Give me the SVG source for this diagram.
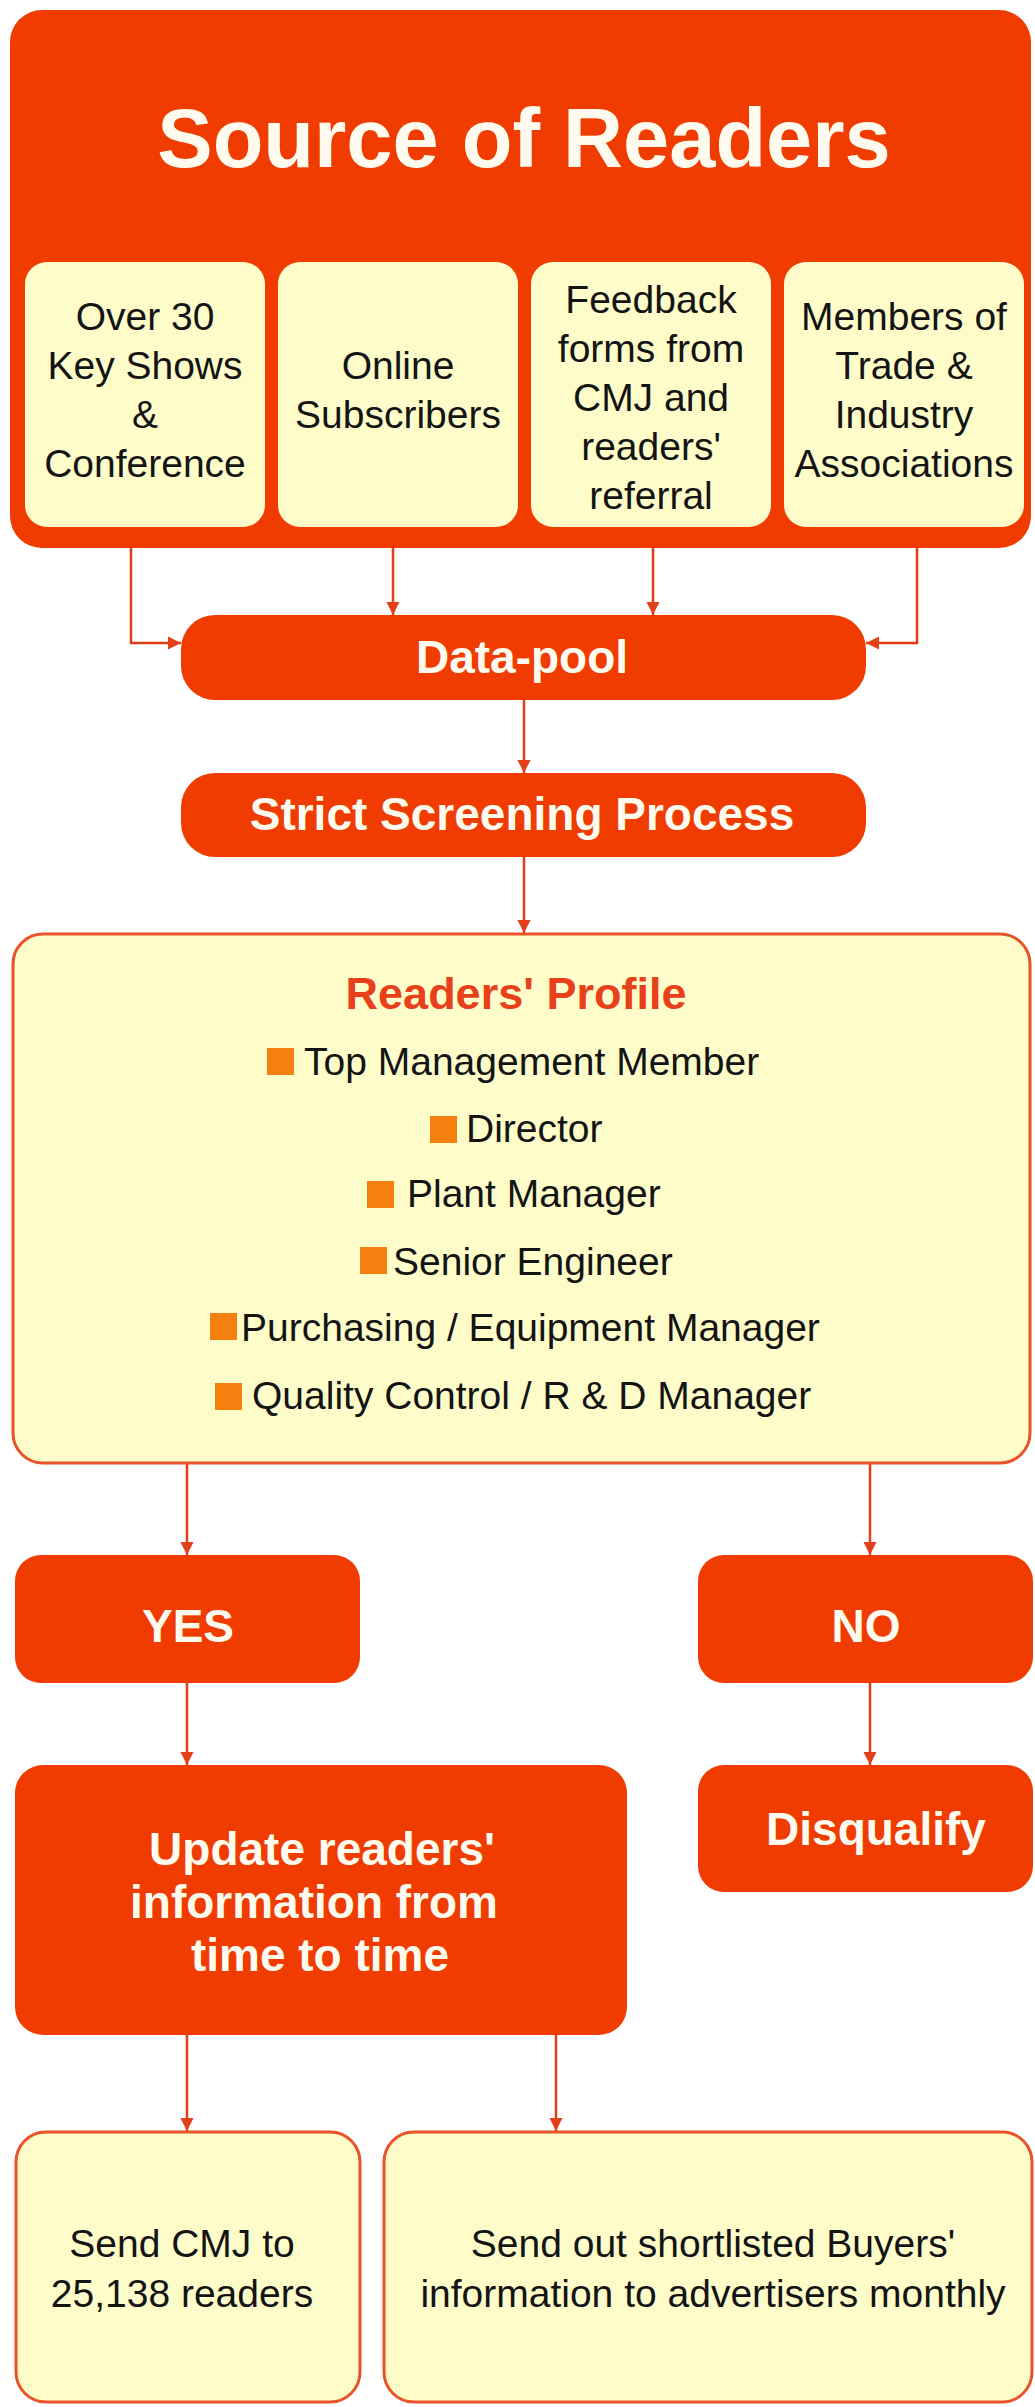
<svg xmlns="http://www.w3.org/2000/svg" width="1035" height="2407" viewBox="0 0 1035 2407">
<defs>
<marker id="arr" viewBox="0 0 10 10" refX="10" refY="5" markerUnits="userSpaceOnUse" markerWidth="13" markerHeight="14" orient="auto">
<path d="M0,0 L10,5 L0,10 z" fill="#e33f18"/>
</marker>
<style>
.red{fill:#f03c00}
.yel{fill:#fefcc9}
.yb{fill:#fefcc9;stroke:#e8532a;stroke-width:3}
.t{font-family:"Liberation Sans",Arial,sans-serif;fill:#141414;font-size:39px;text-anchor:middle}
.ts{font-family:"Liberation Sans",Arial,sans-serif;fill:#141414;font-size:39px}
.w{font-family:"Liberation Sans",Arial,sans-serif;fill:#fffbef;font-weight:bold;font-size:46px;text-anchor:middle}
.title{font-size:83px}
.b{fill:#f5800f}
.c{fill:none;stroke:#e33f18;stroke-width:2.5}
</style>
</defs>
<rect width="1035" height="2407" fill="#ffffff"/>

<g id="source">
<rect class="red" x="10" y="10" width="1021" height="538" rx="32"/>
<text class="w title" x="524" y="167">Source of Readers</text>
</g>
<g id="shows">
<rect class="yel" x="25" y="262" width="240" height="265" rx="22"/>
<text class="t" x="145" y="330">Over 30</text>
<text class="t" x="145" y="379">Key Shows</text>
<text class="t" x="145" y="428">&amp;</text>
<text class="t" x="145" y="477">Conference</text>
</g>
<g id="online">
<rect class="yel" x="278" y="262" width="240" height="265" rx="22"/>
<text class="t" x="398" y="379">Online</text>
<text class="t" x="398" y="428">Subscribers</text>
</g>
<g id="feedback">
<rect class="yel" x="531" y="262" width="240" height="265" rx="22"/>
<text class="t" x="651" y="313">Feedback</text>
<text class="t" x="651" y="362">forms from</text>
<text class="t" x="651" y="411">CMJ and</text>
<text class="t" x="651" y="460">readers'</text>
<text class="t" x="651" y="509">referral</text>
</g>
<g id="members">
<rect class="yel" x="784" y="262" width="240" height="265" rx="22"/>
<text class="t" x="904" y="330">Members of</text>
<text class="t" x="904" y="379">Trade &amp;</text>
<text class="t" x="904" y="428">Industry</text>
<text class="t" x="904" y="477">Associations</text>
</g>

<g id="datapool">
<rect class="red" x="181" y="615" width="685" height="85" rx="34"/>
<text class="w" x="522" y="673">Data-pool</text>
</g>
<g id="screening">
<rect class="red" x="181" y="773" width="685" height="84" rx="34"/>
<text class="w" x="522" y="830">Strict Screening Process</text>
</g>

<g id="profile">
<rect class="yb" x="13" y="934" width="1017" height="529" rx="30"/>
<text x="516" y="1009" font-family="Liberation Sans, Arial, sans-serif" font-weight="bold" font-size="45" fill="#e8401a" text-anchor="middle">Readers' Profile</text>
<rect class="b" x="267" y="1048" width="27" height="27"/>
<text class="ts" x="304" y="1075">Top Management Member</text>
<rect class="b" x="430" y="1116" width="27" height="27"/>
<text class="ts" x="466" y="1142">Director</text>
<rect class="b" x="367" y="1181" width="27" height="27"/>
<text class="ts" x="407" y="1207">Plant Manager</text>
<rect class="b" x="360" y="1247" width="27" height="27"/>
<text class="ts" x="393" y="1275">Senior Engineer</text>
<rect class="b" x="210" y="1313" width="27" height="27"/>
<text class="ts" x="241" y="1341">Purchasing / Equipment Manager</text>
<rect class="b" x="215" y="1383" width="27" height="27"/>
<text class="ts" x="252" y="1409">Quality Control / R &amp; D Manager</text>
</g>

<g id="yes">
<rect class="red" x="15" y="1555" width="345" height="128" rx="26"/>
<text class="w" x="188" y="1642">YES</text>
</g>
<g id="no">
<rect class="red" x="698" y="1555" width="335" height="128" rx="26"/>
<text class="w" x="866" y="1642">NO</text>
</g>
<g id="update">
<rect class="red" x="15" y="1765" width="612" height="270" rx="28"/>
<text class="w" x="322" y="1865">Update readers'</text>
<text class="w" x="314" y="1918">information from</text>
<text class="w" x="320" y="1971">time to time</text>
</g>
<g id="disqualify">
<rect class="red" x="698" y="1765" width="335" height="127" rx="26"/>
<text class="w" x="876" y="1845">Disqualify</text>
</g>
<g id="sendcmj">
<rect class="yb" x="16" y="2132" width="344" height="270" rx="30"/>
<text class="t" x="182" y="2257">Send CMJ to</text>
<text class="t" x="182" y="2307">25,138 readers</text>
</g>
<g id="sendbuyers">
<rect class="yb" x="384" y="2132" width="648" height="270" rx="30"/>
<text class="t" x="713" y="2257">Send out shortlisted Buyers'</text>
<text class="t" x="713" y="2307">information to advertisers monthly</text>
</g>

<g id="connectors">
<path class="c" d="M131,548 V643 H181" marker-end="url(#arr)"/>
<path class="c" d="M393,548 V615" marker-end="url(#arr)"/>
<path class="c" d="M653,548 V615" marker-end="url(#arr)"/>
<path class="c" d="M917,548 V643 H866" marker-end="url(#arr)"/>
<path class="c" d="M524,700 V773" marker-end="url(#arr)"/>
<path class="c" d="M524,857 V933" marker-end="url(#arr)"/>
<path class="c" d="M187,1464 V1555" marker-end="url(#arr)"/>
<path class="c" d="M870,1464 V1555" marker-end="url(#arr)"/>
<path class="c" d="M187,1683 V1765" marker-end="url(#arr)"/>
<path class="c" d="M870,1683 V1765" marker-end="url(#arr)"/>
<path class="c" d="M187,2035 V2131" marker-end="url(#arr)"/>
<path class="c" d="M556,2035 V2131" marker-end="url(#arr)"/>
</g>
</svg>
